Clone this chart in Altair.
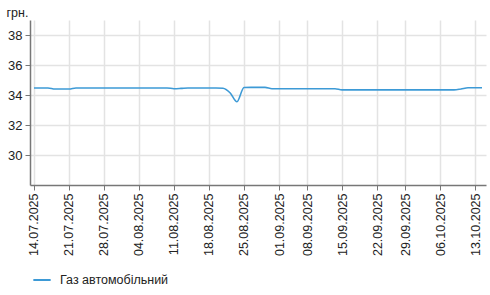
import altair as alt
import pandas as pd

dates = [
    "14.07.2025", "15.07.2025", "16.07.2025", "17.07.2025", "18.07.2025",
    "21.07.2025", "22.07.2025", "23.07.2025", "24.07.2025", "25.07.2025",
    "28.07.2025", "29.07.2025", "30.07.2025", "31.07.2025", "01.08.2025",
    "04.08.2025", "05.08.2025", "06.08.2025", "07.08.2025", "08.08.2025",
    "11.08.2025", "12.08.2025", "13.08.2025", "14.08.2025", "15.08.2025",
    "18.08.2025", "19.08.2025", "20.08.2025", "21.08.2025", "22.08.2025",
    "25.08.2025", "26.08.2025", "27.08.2025", "28.08.2025", "29.08.2025",
    "01.09.2025", "02.09.2025", "03.09.2025", "04.09.2025",
    "08.09.2025", "09.09.2025", "10.09.2025", "11.09.2025", "12.09.2025",
    "15.09.2025", "16.09.2025", "17.09.2025", "18.09.2025", "19.09.2025",
    "22.09.2025", "23.09.2025", "24.09.2025", "25.09.2025",
    "29.09.2025", "30.09.2025", "01.10.2025", "02.10.2025", "03.10.2025",
    "06.10.2025", "07.10.2025", "08.10.2025", "09.10.2025", "10.10.2025",
    "13.10.2025", "14.10.2025",
]

prices = [
    34.47, 34.47, 34.47, 34.40, 34.40,
    34.40, 34.47, 34.47, 34.47, 34.47,
    34.47, 34.47, 34.47, 34.47, 34.47,
    34.47, 34.47, 34.47, 34.47, 34.47,
    34.42, 34.44, 34.47, 34.47, 34.47,
    34.47, 34.47, 34.45, 34.15, 33.55,
    34.50, 34.51, 34.51, 34.51, 34.42,
    34.42, 34.42, 34.42, 34.42,
    34.42, 34.42, 34.42, 34.42, 34.42,
    34.34, 34.34, 34.34, 34.34, 34.34,
    34.34, 34.34, 34.34, 34.34,
    34.34, 34.34, 34.34, 34.34, 34.34,
    34.34, 34.34, 34.34, 34.40, 34.48,
    34.48, 34.48,
]

tick_labels = [
    "14.07.2025", "21.07.2025", "28.07.2025", "04.08.2025", "11.08.2025",
    "18.08.2025", "25.08.2025", "01.09.2025", "08.09.2025", "15.09.2025",
    "22.09.2025", "29.09.2025", "06.10.2025", "13.10.2025",
]

series_name = "Газ автомобільний"

df = pd.DataFrame({"date": dates, "price": prices, "series": series_name})

font = "Liberation Sans"

chart = (
    alt.Chart(df)
    .mark_line(strokeWidth=1.6, interpolate="monotone")
    .encode(
        x=alt.X(
            "date:O",
            sort=None,
            scale=alt.Scale(type="point", padding=0.57),
            axis=alt.Axis(
                values=tick_labels,
                title=None,
                labelAngle=-90,
                labelFontSize=12.5,
                labelColor="#222222",
                labelFont=font,
                labelPadding=3,
                tickSize=5,
                tickColor="#777777",
                domainColor="#777777",
                domainWidth=1.5,
                grid=True,
                gridColor="#e3e3e3",
                gridWidth=1.5,
            ),
        ),
        y=alt.Y(
            "price:Q",
            scale=alt.Scale(domain=[28, 39], nice=False, zero=False),
            axis=alt.Axis(
                values=[30, 32, 34, 36, 38],
                title="грн.",
                titleAngle=0,
                titleAlign="left",
                titleBaseline="middle",
                titleX=-24,
                titleY=-8,
                titleFontWeight="normal",
                titleFontSize=12.5,
                titleFont=font,
                titleColor="#222222",
                labelFontSize=13,
                labelFont=font,
                labelColor="#222222",
                labelPadding=3,
                tickSize=5,
                tickColor="#777777",
                domainColor="#777777",
                domainWidth=1.5,
                grid=True,
                gridColor="#e3e3e3",
                gridWidth=1.5,
            ),
        ),
        color=alt.Color(
            "series:N",
            scale=alt.Scale(range=["#3d9ad6"]),
            legend=alt.Legend(
                title=None,
                orient="none",
                legendX=2,
                legendY=250,
                symbolType="stroke",
                symbolSize=300,
                symbolStrokeWidth=2,
                labelFontSize=12.5,
                labelFont=font,
                labelColor="#222222",
                labelOffset=8,
            ),
        ),
    )
    .properties(
        width=456,
        height=165,
        padding={"left": 30, "top": 20, "right": 4, "bottom": 110},
        autosize=alt.AutoSizeParams(type="none"),
    )
    .configure_view(stroke=None)
)

chart.save("out.html", embed_options={"renderer": "svg", "actions": False})
